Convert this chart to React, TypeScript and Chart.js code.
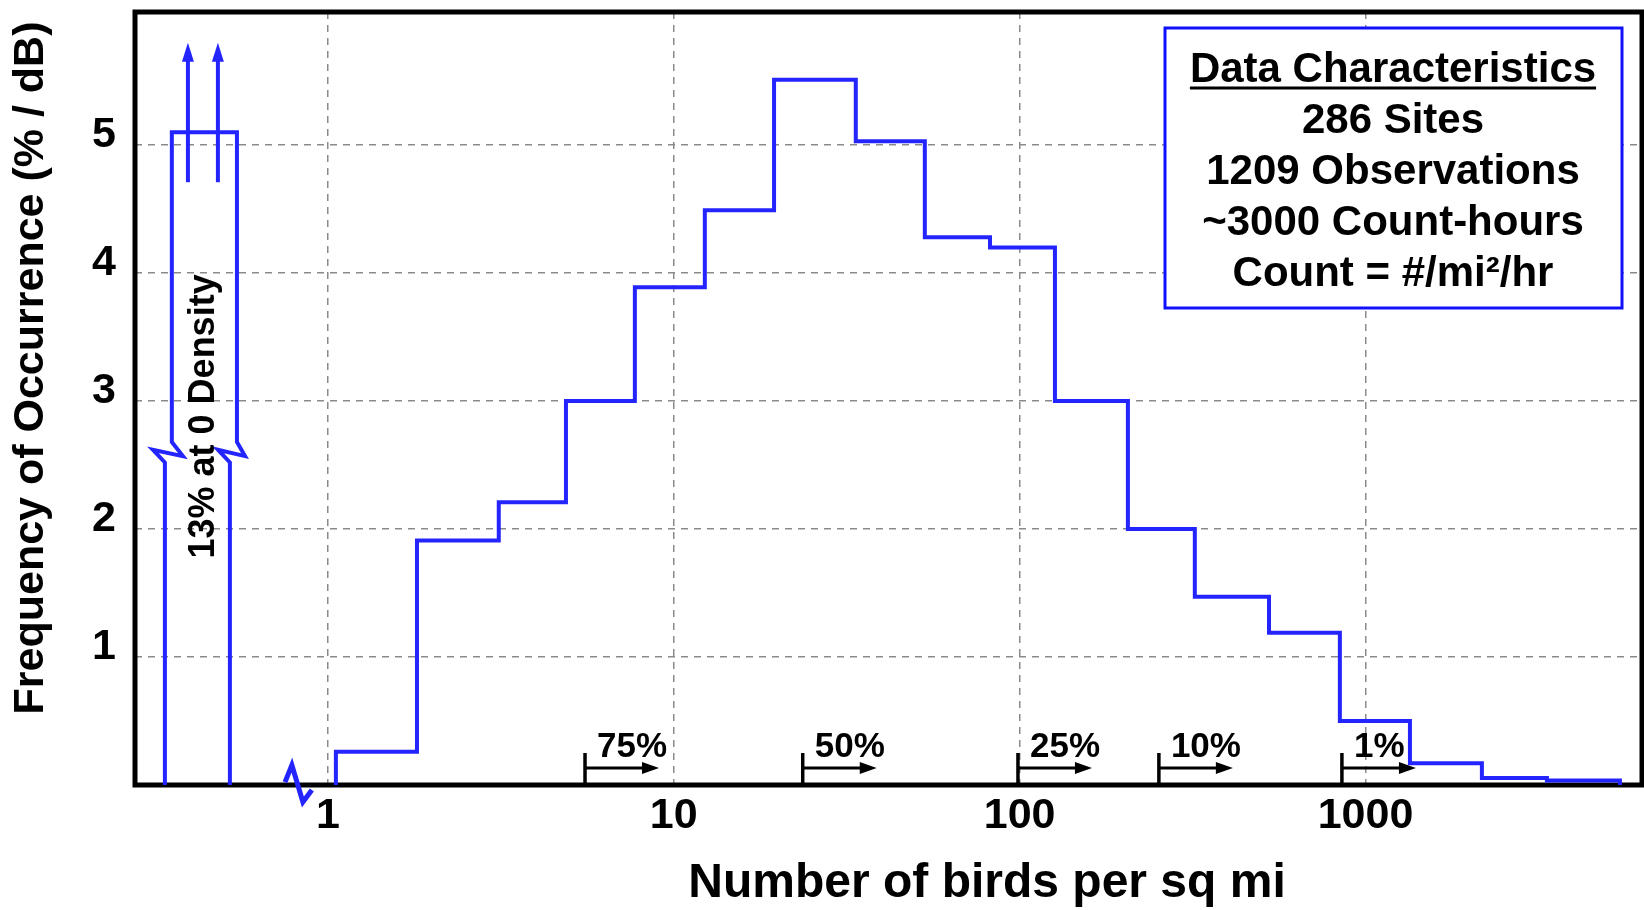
import React, { useEffect, useRef } from 'react';
import { Chart, registerables } from 'chart.js';

Chart.register(...registerables);

// ---- Data ----
// Histogram bin edges (birds per sq mi) and frequency per bin (% / dB)
const binEdges = [1.055, 1.81, 3.12, 4.88, 7.72, 12.3, 19.5, 33.6, 53.2, 82.1, 126.5, 205.6, 321, 526, 843, 1344, 2170, 3345, 5440];
const binValues = [0.26, 1.91, 2.21, 3.0, 3.89, 4.49, 5.51, 5.03, 4.28, 4.2, 3.0, 2.0, 1.47, 1.19, 0.5, 0.17, 0.055, 0.035];

// Axis ticks
const xTickValues = [1, 10, 100, 1000];
const xTickLabels = ['1', '10', '100', '1000'];
const yTickValues = [1, 2, 3, 4, 5];
const yTickLabels = ['1', '2', '3', '4', '5'];
const xAxisMin = 0.277;
const xAxisMax = 6300;
const yAxisMin = 0;
const yAxisMax = 6.04;

// "0 density" bar (drawn with a break), its arrows and the axis break mark
const zeroBoxX = [0.338, 0.338, 0.312, 0.381, 0.354, 0.354, 0.546, 0.546, 0.576, 0.481, 0.521, 0.521];
const zeroBoxY = [0, 2.52, 2.62, 2.57, 2.68, 5.1, 5.1, 2.68, 2.57, 2.62, 2.52, 0];
const zeroArrowX = [0.394, 0.481];
const zeroArrowY = [4.71, 5.8];
const zeroLabel = '13% at 0 Density';
const zeroLabelY = 2.88;
const axisBreakX = [0.752, 0.787, 0.847, 0.899];
const axisBreakY = [0.023, 0.156, -0.133, -0.039];

// Percentile (exceedance) markers
const percentileValues = [5.54, 23.6, 98.9, 252.7, 854.6];
const percentileLabels = ['75%', '50%', '25%', '10%', '1%'];

// Texts
const xTitle = 'Number of birds per sq mi';
const yTitle = 'Frequency of Occurrence (% / dB)';
const infoTitle = 'Data Characteristics';
const infoLines = ['286 Sites', '1209 Observations', '~3000 Count-hours', 'Count = #/mi\u00B2/hr'];

const BLUE = '#2424ff';
const FONT = '"Liberation Sans", Arial, Helvetica, sans-serif';

const overlayPlugin = {
  id: 'overlay',
  beforeDatasetsDraw(chart: any) {
    const { ctx, chartArea: a } = chart;
    ctx.save();
    ctx.strokeStyle = '#000';
    ctx.lineWidth = 5;
    ctx.strokeRect(a.left, a.top, a.right - a.left, a.bottom - a.top);
    ctx.restore();
  },
  afterDatasetsDraw(chart: any) {
    const { ctx, scales } = chart;
    const xs = scales.x;
    const ys = scales.y;
    ctx.save();

    // percentile markers
    const y0 = ys.getPixelForValue(0);
    percentileValues.forEach((v, i) => {
      const px = xs.getPixelForValue(v);
      ctx.strokeStyle = '#000';
      ctx.fillStyle = '#000';
      ctx.lineWidth = 3.5;
      ctx.beginPath();
      ctx.moveTo(px, y0);
      ctx.lineTo(px, y0 - 32);
      ctx.stroke();
      const ay = y0 - 17;
      ctx.lineWidth = 3;
      ctx.beginPath();
      ctx.moveTo(px, ay);
      ctx.lineTo(px + 60, ay);
      ctx.stroke();
      ctx.beginPath();
      ctx.moveTo(px + 74, ay);
      ctx.lineTo(px + 57, ay - 6);
      ctx.lineTo(px + 57, ay + 6);
      ctx.closePath();
      ctx.fill();
      ctx.font = `bold 35px ${FONT}`;
      ctx.textAlign = 'left';
      ctx.textBaseline = 'alphabetic';
      ctx.fillText(percentileLabels[i], px + 12, y0 - 28);
    });

    // arrows in the zero-density bar
    zeroArrowX.forEach((v) => {
      const px = xs.getPixelForValue(v);
      const yb = ys.getPixelForValue(zeroArrowY[0]);
      const yt = ys.getPixelForValue(zeroArrowY[1]);
      ctx.strokeStyle = BLUE;
      ctx.fillStyle = BLUE;
      ctx.lineWidth = 4;
      ctx.beginPath();
      ctx.moveTo(px, yb);
      ctx.lineTo(px, yt + 15);
      ctx.stroke();
      ctx.beginPath();
      ctx.moveTo(px, yt);
      ctx.lineTo(px - 6, yt + 19);
      ctx.lineTo(px + 6, yt + 19);
      ctx.closePath();
      ctx.fill();
    });

    // rotated label in the zero-density bar
    const cx = (xs.getPixelForValue(zeroBoxX[0]) + xs.getPixelForValue(zeroBoxX[zeroBoxX.length - 1])) / 2;
    ctx.save();
    ctx.translate(cx + 17, ys.getPixelForValue(zeroLabelY));
    ctx.rotate(-Math.PI / 2);
    ctx.font = `bold 36px ${FONT}`;
    ctx.fillStyle = '#000';
    ctx.textAlign = 'center';
    ctx.textBaseline = 'alphabetic';
    ctx.fillText(zeroLabel, 0, 0);
    ctx.restore();

    // info box
    ctx.fillStyle = '#fff';
    ctx.fillRect(1165, 28, 457, 280);
    ctx.strokeStyle = '#1010ff';
    ctx.lineWidth = 3;
    ctx.strokeRect(1165, 28, 457, 280);
    ctx.fillStyle = '#000';
    ctx.font = `bold 42px ${FONT}`;
    ctx.textAlign = 'center';
    ctx.textBaseline = 'alphabetic';
    const bx = 1393;
    ctx.fillText(infoTitle, bx, 82);
    const tw = ctx.measureText(infoTitle).width;
    ctx.strokeStyle = '#000';
    ctx.lineWidth = 3;
    ctx.beginPath();
    ctx.moveTo(bx - tw / 2, 88);
    ctx.lineTo(bx + tw / 2, 88);
    ctx.stroke();
    infoLines.forEach((t, i) => {
      ctx.fillText(t, bx, 133 + i * 51);
    });

    // axis titles
    ctx.font = `bold 48px ${FONT}`;
    ctx.textAlign = 'center';
    ctx.fillText(xTitle, 987, 897);
    ctx.save();
    ctx.translate(43, 368);
    ctx.rotate(-Math.PI / 2);
    ctx.font = `bold 43px ${FONT}`;
    ctx.fillText(yTitle, 0, 0);
    ctx.restore();

    ctx.restore();
  },
};

export default function App() {
  const canvasRef = useRef<HTMLCanvasElement | null>(null);

  useEffect(() => {
    const canvas = canvasRef.current;
    if (!canvas) return;

    const histPoints: { x: number; y: number }[] = [{ x: binEdges[0], y: 0 }];
    binValues.forEach((v, i) => {
      histPoints.push({ x: binEdges[i], y: v });
      histPoints.push({ x: binEdges[i + 1], y: v });
    });
    histPoints.push({ x: binEdges[binEdges.length - 1], y: 0 });

    const zeroBoxPoints = zeroBoxX.map((x, i) => ({ x, y: zeroBoxY[i] }));
    const breakPoints = axisBreakX.map((x, i) => ({ x, y: axisBreakY[i] }));

    const tickFont = { family: FONT, size: 43, weight: 'bold' as const };

    const chart = new Chart(canvas, {
      type: 'scatter',
      data: {
        datasets: [
          {
            data: histPoints,
            showLine: true,
            borderColor: BLUE,
            borderWidth: 4,
            pointRadius: 0,
            fill: false,
            tension: 0,
          },
          {
            data: zeroBoxPoints,
            showLine: true,
            borderColor: BLUE,
            borderWidth: 4,
            pointRadius: 0,
            fill: false,
            tension: 0,
          },
          {
            data: breakPoints,
            showLine: true,
            borderColor: BLUE,
            borderWidth: 5,
            pointRadius: 0,
            fill: false,
            tension: 0,
            clip: false as any,
          },
        ],
      },
      options: {
        responsive: false,
        animation: false,
        devicePixelRatio: 1,
        layout: { padding: { top: 12, right: 2, left: 0, bottom: 0 } },
        plugins: {
          legend: { display: false },
          tooltip: { enabled: false },
          title: { display: false },
        },
        scales: {
          x: {
            type: 'logarithmic',
            min: xAxisMin,
            max: xAxisMax,
            afterBuildTicks: (scale: any) => {
              scale.ticks = xTickValues.map((v) => ({ value: v }));
            },
            afterFit: (scale: any) => {
              scale.height = 125;
              scale.paddingLeft = 0;
              scale.paddingRight = 0;
              scale.paddingTop = 0;
              scale.paddingBottom = 0;
            },
            ticks: {
              autoSkip: false,
              maxRotation: 0,
              color: '#000',
              font: tickFont,
              padding: 5,
              callback: (_v: any, i: number) => xTickLabels[i],
            },
            grid: {
              color: '#8a8a8a',
              lineWidth: 1.5,
              drawTicks: false,
            },
            border: { display: false, dash: [7, 6] },
          },
          y: {
            type: 'linear',
            min: yAxisMin,
            max: yAxisMax,
            afterBuildTicks: (scale: any) => {
              scale.ticks = yTickValues.map((v) => ({ value: v }));
            },
            afterFit: (scale: any) => {
              scale.width = 135;
              scale.paddingLeft = 0;
              scale.paddingRight = 0;
              scale.paddingTop = 0;
              scale.paddingBottom = 0;
            },
            ticks: {
              autoSkip: false,
              color: '#000',
              font: tickFont,
              padding: 19,
              labelOffset: -10,
              callback: (_v: any, i: number) => yTickLabels[i],
            },
            grid: {
              color: '#8a8a8a',
              lineWidth: 1.5,
              drawTicks: false,
            },
            border: { display: false, dash: [7, 6] },
          },
        },
      },
      plugins: [overlayPlugin],
    });

    return () => {
      chart.destroy();
    };
  }, []);

  return (
    <div style={{ position: 'fixed', left: 0, top: 0, width: 1644, height: 910, background: '#fff' }}>
      <canvas ref={canvasRef} width={1644} height={910} style={{ display: 'block' }} />
    </div>
  );
}
